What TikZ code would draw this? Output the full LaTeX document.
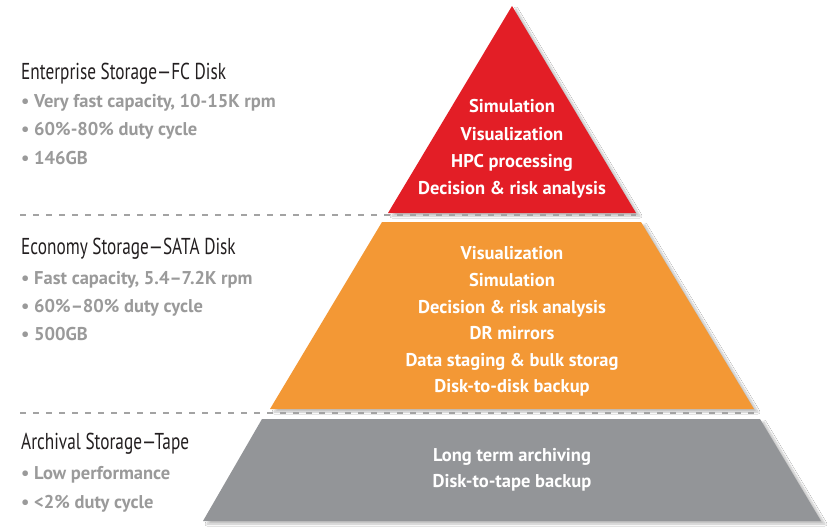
\documentclass[tikz,border=0pt]{standalone}
\usepackage{fontspec}
\setmainfont{PT Sans}
\newfontfamily\headfont[FakeStretch=0.75]{PT Sans}
\usetikzlibrary{shadows.blur}
\definecolor{tierred}{HTML}{E31E26}
\definecolor{tierorange}{HTML}{F39835}
\definecolor{tiergray}{HTML}{939598}
\definecolor{bulletgray}{HTML}{9A9A9A}
\definecolor{headblack}{HTML}{231F20}
\definecolor{dashgray}{HTML}{A3A3A3}
\begin{document}
\begin{tikzpicture}[x=1pt,y=-1pt,
  tier/.style={blur shadow={shadow xshift=4pt,shadow yshift=-3pt,shadow opacity=25,shadow blur steps=8}},
  headtxt/.style={anchor=base west,inner sep=0pt,font=\headfont\fontsize{23}{23}\selectfont,text=headblack},
  bultxt/.style={anchor=base west,inner sep=0pt,font=\bfseries\fontsize{18.5}{18.5}\selectfont,text=bulletgray},
  pyrtxt/.style={anchor=base,inner sep=0pt,font=\bfseries\fontsize{18.5}{18.5}\selectfont,text=white},
  sep/.style={dashgray,line width=1.5pt,dash pattern=on 6pt off 7pt}]
\useasboundingbox (0,0) rectangle (833,527);
\fill[white] (0,0) rectangle (833,527);
% tiers
\fill[tiergray,tier] (262,419) -- (760,419) -- (821,521) -- (203,521) -- cycle;
\fill[tierorange,tier] (382,222) -- (641,222) -- (754,409) -- (270,409) -- cycle;
\fill[tierred,tier] (512,6) -- (636,213) -- (388,213) -- cycle;
% separators
\coordinate (s1a) at (20,215); \coordinate (s1b) at (636,215);
\coordinate (s2a) at (20,413); \coordinate (s2b) at (754,413);
\draw[sep] (s1a) -- (s1b);
\draw[sep] (s2a) -- (s2b);
% left labels
\node[headtxt] (h1) at (21,80) {Enterprise Storage—FC Disk};
\node[bultxt] (b11) at (21,107) {• Very fast capacity, 10-15K rpm};
\node[bultxt] (b12) at (21,135.5) {• 60\%-80\% duty cycle};
\node[bultxt] (b13) at (21,164) {• 146GB};
\node[headtxt] (h2) at (21,254) {Economy Storage—SATA Disk};
\node[bultxt] (b21) at (21,284) {• Fast capacity, 5.4–7.2K rpm};
\node[bultxt] (b22) at (21,312) {• 60\%–80\% duty cycle};
\node[bultxt] (b23) at (21,340) {• 500GB};
\node[headtxt] (h3) at (21,449) {Archival Storage—Tape};
\node[bultxt] (b31) at (21,479) {• Low performance};
\node[bultxt] (b32) at (21,508) {• <2\% duty cycle};
% pyramid texts
\node[pyrtxt] (r1) at (512,113) {Simulation};
\node[pyrtxt] (r2) at (512,140) {Visualization};
\node[pyrtxt] (r3) at (512,167) {HPC processing};
\node[pyrtxt] (r4) at (512,194) {Decision \& risk analysis};
\node[pyrtxt] (o1) at (512,259) {Visualization};
\node[pyrtxt] (o2) at (512,286) {Simulation};
\node[pyrtxt] (o3) at (512,313) {Decision \& risk analysis};
\node[pyrtxt] (o4) at (512,339) {DR mirrors};
\node[pyrtxt] (o5) at (512,366) {Data staging \& bulk storag};
\node[pyrtxt] (o6) at (512,392) {Disk-to-disk backup};
\node[pyrtxt] (g1) at (512,461) {Long term archiving};
\node[pyrtxt] (g2) at (512,487) {Disk-to-tape backup};
\end{tikzpicture}
\end{document}
